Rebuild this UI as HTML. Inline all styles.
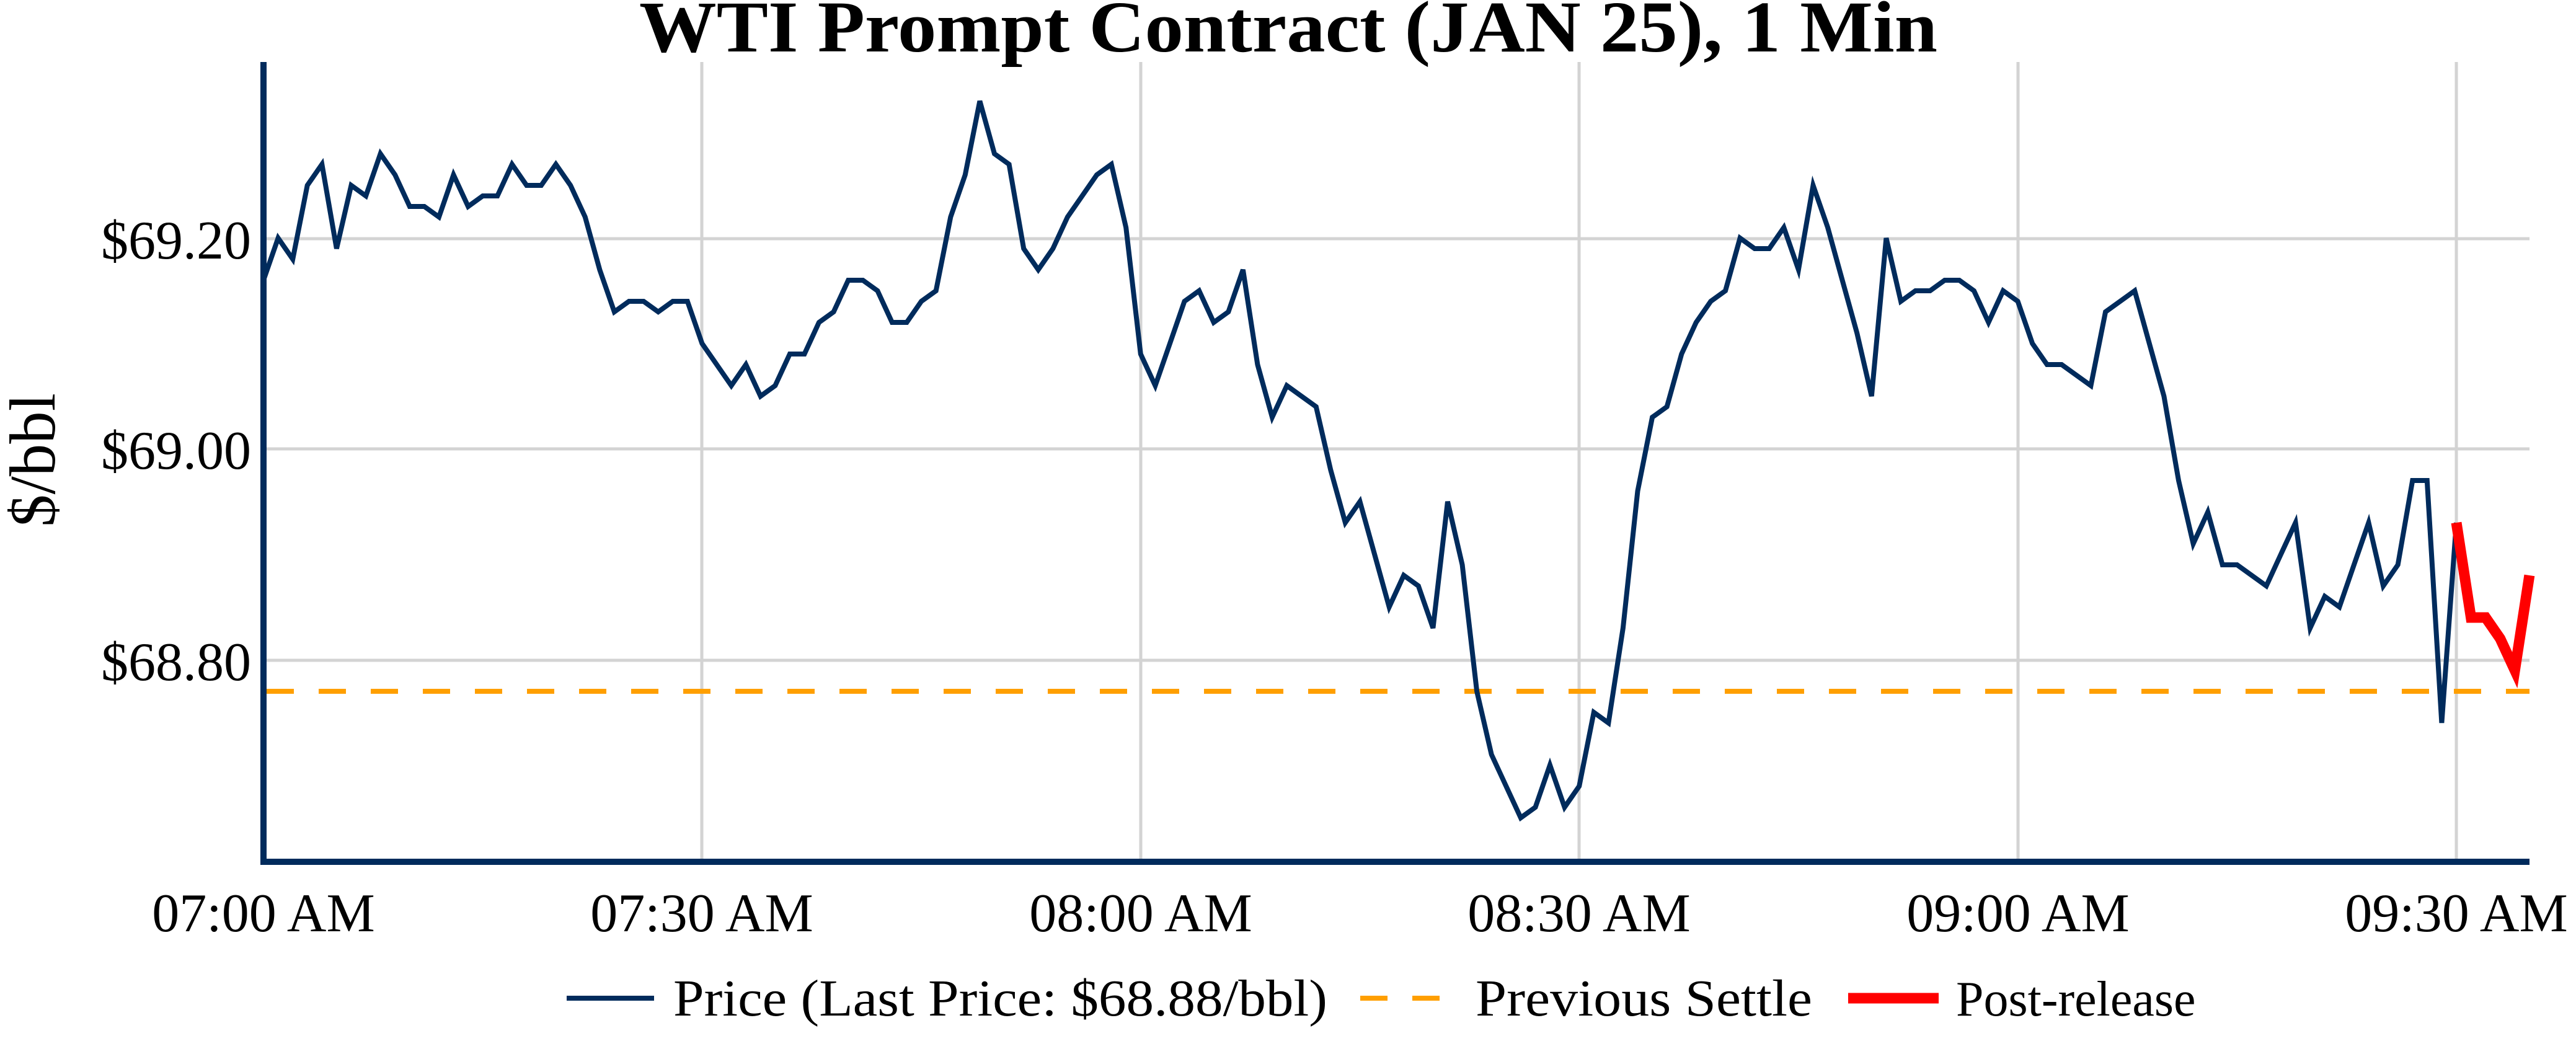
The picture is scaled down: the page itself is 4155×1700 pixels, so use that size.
<!DOCTYPE html>
<html><head><meta charset="utf-8"><style>html,body{margin:0;padding:0;background:#fff}svg{display:block}</style></head>
<body>
<svg id="s" xmlns="http://www.w3.org/2000/svg" width="4155" height="1700" viewBox="0 0 4155 1700" font-family="'Liberation Serif', serif">
<rect width="4155" height="1700" fill="#fff"/>
<g stroke="#d3d3d3" stroke-width="5">
<line x1="430" y1="385" x2="4080" y2="385"/>
<line x1="430" y1="724" x2="4080" y2="724"/>
<line x1="430" y1="1065" x2="4080" y2="1065"/>
<line x1="1132" y1="100" x2="1132" y2="1390"/>
<line x1="1840" y1="100" x2="1840" y2="1390"/>
<line x1="2547" y1="100" x2="2547" y2="1390"/>
<line x1="3255" y1="100" x2="3255" y2="1390"/>
<line x1="3962" y1="100" x2="3962" y2="1390"/>
</g>
<line x1="430" y1="1115" x2="4080" y2="1115" stroke="#ff9f00" stroke-width="8" stroke-dasharray="44 40"/>
<polyline id="blue" fill="none" stroke="#002b5c" stroke-width="8" stroke-linejoin="miter"/>
<polyline id="red" fill="none" stroke="#ff0000" stroke-width="17"/>
<line x1="425" y1="100" x2="425" y2="1395" stroke="#002b5c" stroke-width="10"/>
<line x1="420" y1="1390" x2="4080" y2="1390" stroke="#002b5c" stroke-width="10"/>
<text x="2078" y="83" font-size="118" font-weight="bold" text-anchor="middle" textLength="2094" lengthAdjust="spacingAndGlyphs">WTI Prompt Contract (JAN 25), 1 Min</text>
<g font-size="88" text-anchor="end">
<text x="405" y="417">$69.20</text>
<text x="405" y="756">$69.00</text>
<text x="405" y="1097">$68.80</text>
</g>
<text transform="translate(88,742) rotate(-90)" font-size="105" text-anchor="middle">$/bbl</text>
<g font-size="88" text-anchor="middle">
<text x="425" y="1502">07:00 AM</text>
<text x="1132" y="1502">07:30 AM</text>
<text x="1840" y="1502">08:00 AM</text>
<text x="2547" y="1502">08:30 AM</text>
<text x="3255" y="1502">09:00 AM</text>
<text x="3962" y="1502">09:30 AM</text>
</g>
<line x1="914" y1="1610" x2="1055" y2="1610" stroke="#002b5c" stroke-width="8"/>
<text x="1086" y="1638" font-size="84" textLength="1055" lengthAdjust="spacingAndGlyphs">Price (Last Price: $68.88/bbl)</text>
<line x1="2194" y1="1610" x2="2332" y2="1610" stroke="#ff9f00" stroke-width="8" stroke-dasharray="44 40"/>
<text x="2380" y="1638" font-size="84" textLength="543" lengthAdjust="spacingAndGlyphs">Previous Settle</text>
<line x1="2981" y1="1610" x2="3127" y2="1610" stroke="#ff0000" stroke-width="17"/>
<text x="3155" y="1638" font-size="80">Post-release</text>
</svg>
<script>
var v=[69.16,69.20,69.18,69.25,69.27,69.19,69.25,69.24,69.28,69.26,69.23,69.23,69.22,69.26,69.23,69.24,69.24,69.27,69.25,69.25,
69.27,69.25,69.22,69.17,69.13,69.14,69.14,69.13,69.14,69.14,69.10,69.08,69.06,69.08,69.05,69.06,69.09,69.09,69.12,69.13,
69.16,69.16,69.15,69.12,69.12,69.14,69.15,69.22,69.26,69.33,69.28,69.27,69.19,69.17,69.19,69.22,69.24,69.26,69.27,69.21,
69.09,69.06,69.10,69.14,69.15,69.12,69.13,69.17,69.08,69.03,69.06,69.05,69.04,68.98,68.93,68.95,68.90,68.85,68.88,68.87,
68.83,68.95,68.89,68.77,68.71,68.68,68.65,68.66,68.70,68.66,68.68,68.75,68.74,68.83,68.96,69.03,69.04,69.09,69.12,
69.14,69.15,69.20,69.19,69.19,69.21,69.17,69.25,69.21,69.16,69.11,69.05,69.20,69.14,69.15,69.15,69.16,69.16,69.15,69.12,
69.15,69.14,69.10,69.08,69.08,69.07,69.06,69.13,69.14,69.15,69.10,69.05,68.97,68.91,68.94,68.89,68.89,68.88,68.87,68.90,
68.93,68.83,68.86,68.85,68.89,68.93,68.87,68.89,68.97,68.97,68.74,68.93];
function X(m){return 425+23.58*m}function Y(p){return 724-(p-69)*1700}
var pts=v.map(function(p,i){return X(i).toFixed(1)+","+Y(p).toFixed(1)}).join(" ");
document.getElementById("blue").setAttribute("points",pts);
var r=[68.93,68.84,68.84,68.82,68.79,68.88];
document.getElementById("red").setAttribute("points",r.map(function(p,i){return X(150+i).toFixed(1)+","+Y(p).toFixed(1)}).join(" "));
</script>
</body></html>
